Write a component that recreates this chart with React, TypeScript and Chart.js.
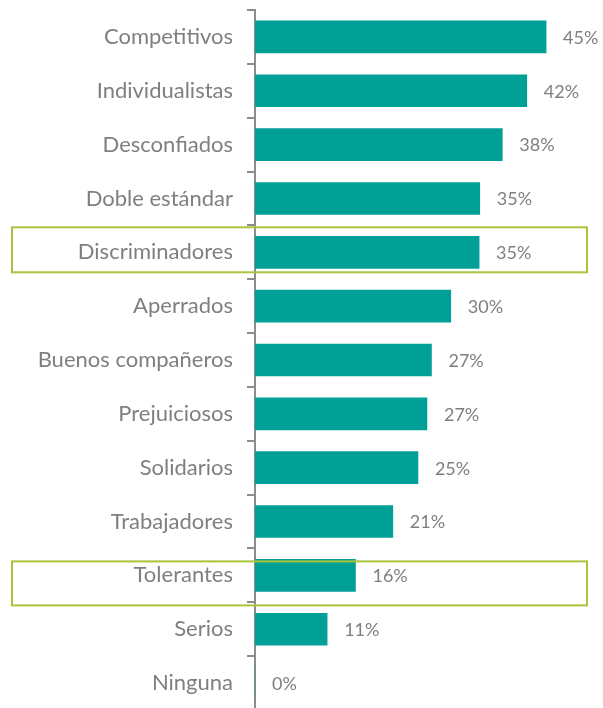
import React, { useEffect, useRef } from "react";
import { Chart, registerables } from "chart.js";

Chart.register(...registerables);

const categories = [
  "Competitivos",
  "Individualistas",
  "Desconfiados",
  "Doble estándar",
  "Discriminadores",
  "Aperrados",
  "Buenos compañeros",
  "Prejuiciosos",
  "Solidarios",
  "Trabajadores",
  "Tolerantes",
  "Serios",
  "Ninguna",
];
const values = [45.2, 42.2, 38.4, 34.9, 34.8, 30.4, 27.4, 26.7, 25.3, 21.4, 15.6, 11.2, 0];
const highlighted = ["Discriminadores", "Tolerantes"];

const FONT = "Lato, 'Open Sans', sans-serif";
const BAR_COLOR = "#00A096";
const TEXT_COLOR = "#7F7F7F";
const BOX_COLOR = "#A8C43C";

export default function App() {
  const ref = useRef<HTMLCanvasElement | null>(null);

  useEffect(() => {
    if (!ref.current) return;

    const valueLabels = {
      id: "valueLabels",
      afterDatasetsDraw(chart: any) {
        const ctx = chart.ctx;
        const meta = chart.getDatasetMeta(0);
        ctx.save();
        ctx.font = `18px ${FONT}`;
        ctx.fillStyle = TEXT_COLOR;
        ctx.textAlign = "left";
        ctx.textBaseline = "middle";
        meta.data.forEach((bar: any, i: number) => {
          ctx.fillText(`${Math.round(values[i])}%`, bar.x + 17, bar.y + 1);
        });
        ctx.restore();
      },
    };

    const highlightBoxes = {
      id: "highlightBoxes",
      afterDraw(chart: any) {
        const ctx = chart.ctx;
        const y = chart.scales.y;
        ctx.save();
        ctx.strokeStyle = BOX_COLOR;
        ctx.lineWidth = 2;
        highlighted.forEach((name, k) => {
          const idx = categories.indexOf(name);
          const c = y.getPixelForValue(idx);
          const top = k === 0 ? c - 25 : c - 14;
          const bottom = k === 0 ? c + 20 : c + 30;
          ctx.strokeRect(12, top, 575, bottom - top);
        });
        ctx.restore();
      },
    };

    const chart = new Chart(ref.current, {
      type: "bar",
      data: {
        labels: categories,
        datasets: [
          {
            data: values,
            backgroundColor: BAR_COLOR,
            borderWidth: 0,
            barThickness: 32,
          },
        ],
      },
      options: {
        indexAxis: "y",
        animation: false,
        responsive: false,
        maintainAspectRatio: false,
        layout: { padding: { top: 10, right: 26, bottom: 0, left: 0 } },
        plugins: {
          legend: { display: false },
          tooltip: { enabled: false },
        },
        scales: {
          x: {
            display: false,
            min: 0,
            max: 50,
          },
          y: {
            afterFit(scale: any) {
              scale.width = 255;
              scale.paddingTop = 0;
              scale.paddingBottom = 0;
            },
            border: { display: true, color: "#8C8C8C", width: 2 },
            grid: {
              display: true,
              drawOnChartArea: false,
              drawTicks: true,
              tickLength: 8,
              color: "#8C8C8C",
              lineWidth: 2,
              offset: true,
            },
            ticks: {
              color: TEXT_COLOR,
              font: { family: FONT, size: 22 },
              padding: 14,
            },
          },
        },
      },
      plugins: [valueLabels, highlightBoxes],
    });

    return () => chart.destroy();
  }, []);

  return (
    <div
      style={{
        position: "absolute",
        left: 0,
        top: 0,
        width: 603,
        height: 708,
        overflow: "hidden",
        background: "#fff",
      }}
    >
      <canvas ref={ref} width={603} height={710} style={{ display: "block" }} />
    </div>
  );
}
